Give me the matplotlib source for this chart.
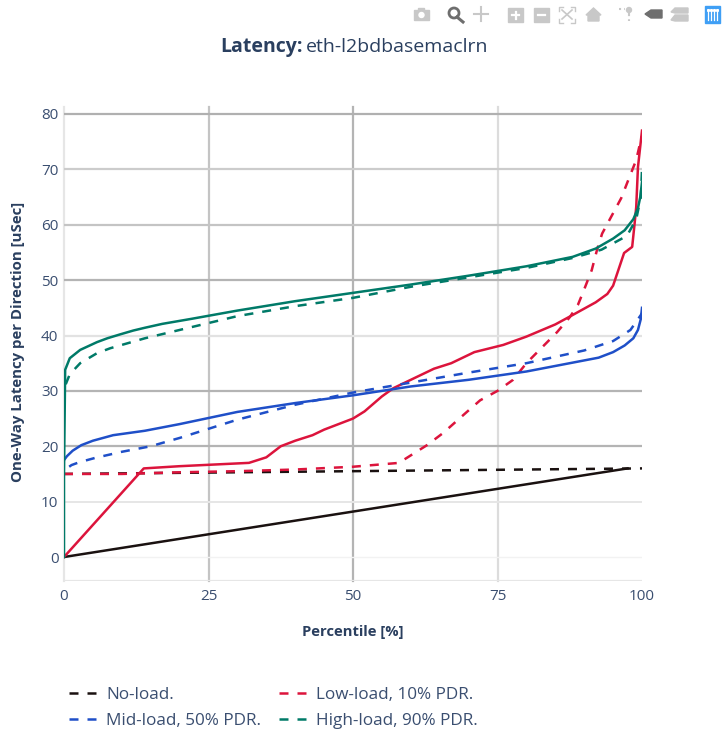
import matplotlib
matplotlib.use("Agg")
from matplotlib import pyplot as plt
from matplotlib.patches import Rectangle, Circle, Polygon

plt.rcParams['font.family'] = ['Open Sans', 'DejaVu Sans']

###
# Latency percentile curves for eth-l2bdbasemaclrn
###

no_x = [0, 97.5]
no_y = [0, 16]
no_dash_x = [0, 100]
no_dash_y = [15, 16]

low_x = [0, 13.8, 20, 32, 35, 37.5, 40, 43, 45, 50, 52, 55, 57, 60, 64, 67, 71, 76, 80, 85, 88, 92,
         94, 95, 96.9, 98.3, 98.7, 99, 99.3, 100]
low_y = [0, 16, 16.4, 17, 18, 20, 21, 22, 23, 25, 26.3, 29, 30.5, 32, 34, 35, 37, 38.3, 39.8, 42, 43.7, 46,
         47.5, 49, 54.9, 56, 60, 63.2, 70.4, 77]
low_dash_x = [0, 10, 20, 30, 40, 50, 58, 58.7, 62.8, 65.6, 69.7, 72, 75, 77.7, 80, 85.3, 87.5, 88.9, 89.8, 91.3,
              92.2, 93.1, 94.8, 96.4, 97.6, 99, 99.8, 100]
low_dash_y = [15, 15, 15.3, 15.5, 15.8, 16.3, 17, 17.5, 20.2, 22.4, 26.2, 28.3, 30, 32, 35, 40.6, 43.3, 45.5, 47.8, 51.8,
              55.4, 58.4, 61.7, 64.8, 68, 71.7, 75.3, 76]

mid_x = [0, 0.5, 1.5, 3, 5, 8.5, 14, 20, 30, 40, 50, 60, 70, 80, 92.5, 95, 97, 98.5, 99.3, 99.8, 100]
mid_y = [17.5, 18.2, 19.2, 20.2, 21, 22, 22.8, 24, 26.2, 27.8, 29.2, 30.8, 32, 33.5, 36, 37, 38.2, 39.5, 41, 43, 45]
mid_dash_x = [0.9, 1.3, 2.6, 5.4, 10, 15, 20, 30, 40, 50, 60, 70, 80, 90, 95, 98, 100]
mid_dash_y = [16.3, 16.6, 17.1, 17.9, 19, 20, 21.5, 24.8, 27.5, 29.7, 31.5, 33.3, 35, 37.3, 39, 41, 44]

high_x = [0, 0, 0.2, 1, 2.8, 5.7, 7.5, 9.7, 12, 14, 17, 22, 30, 40, 50, 60, 70, 80, 88, 92, 95, 97, 98.5,
          99.3, 99.7, 100]
high_y = [0, 15, 33.8, 35.9, 37.4, 38.8, 39.5, 40.2, 40.9, 41.4, 42.1, 43, 44.5, 46.2, 47.7, 49.2, 50.8, 52.5,
          54.2, 55.7, 57.5, 59, 61, 63, 65, 67.7]
high_dash_x = [0.3, 1, 2.8, 5.7, 8, 14, 20, 30, 40, 50, 60, 70, 80, 88, 93, 97.4, 99, 99.8, 100]
high_dash_y = [31.2, 33, 35, 36.8, 37.7, 39.5, 41, 43.5, 45.3, 46.8, 48.8, 50.5, 52.2, 54, 55.5, 58, 61, 65, 70]

x_ticks = [0, 25, 50, 75, 100]
y_ticks = [0, 10, 20, 30, 40, 50, 60, 70, 80]

labels = ["No-load.", "Low-load, 10% PDR.", "Mid-load, 50% PDR.", "High-load, 90% PDR."]
colors = ["#1a1110", "#dc143c", "#1f4fc8", "#007a68"]

W, H = 724, 736
TEXT = "#2a3f5f"
TICK = "#3a4e70"
LW = 1.8
DASH = (0, (3.6, 3.6))

fig = plt.figure(figsize=(W / 100, H / 100), dpi=100)
# axes box in pixels: x 64..642, y 107..581, value 0 sits at 557 and 80 at 114
ax = fig.add_axes([64 / W, 1 - 581 / H, 578 / W, 474 / H])
ax.set_xlim(0, 100)
ax.set_ylim(-24 / 5.54, 80 + 7 / 5.54)
for s in ax.spines.values():
    s.set_visible(False)

h_cols = ["#f2f2f2", "#e6e6e6", "#b4b4b4", "#b4b4b4", "#e2e2e2", "#b4b4b4", "#c4c4c4", "#cccccc", "#b0b0b0"]
h_wid = [1.0, 1.4, 1.6, 1.6, 1.6, 1.6, 1.6, 1.6, 1.6]
for v, c, w in zip(y_ticks, h_cols, h_wid):
    ax.axhline(v, color=c, lw=w, zorder=2)
for v, c in zip(x_ticks[:4], ["#e6e6e6", "#c4c4c4", "#b4b4b4", "#dcdcdc"]):
    ax.axvline(v, color=c, lw=1.6, zorder=1, clip_on=False)
ax.axhline(-23.5 / 5.54, color="#e6e6e6", lw=1.6, zorder=2)

ax.plot(no_dash_x, no_dash_y, color=colors[0], lw=LW, ls=DASH, zorder=3)
ax.plot(no_x, no_y, color=colors[0], lw=LW, zorder=3)
ax.plot(low_dash_x, low_dash_y, color=colors[1], lw=LW, ls=DASH, zorder=3)
ax.plot(low_x, low_y, color=colors[1], lw=LW, zorder=3)
ax.plot(mid_dash_x, mid_dash_y, color=colors[2], lw=LW, ls=DASH, zorder=3)
ax.plot(mid_x, mid_y, color=colors[2], lw=LW, zorder=3)
ax.plot(high_dash_x, high_dash_y, color=colors[3], lw=LW, ls=DASH, zorder=3)
ax.plot(high_x, high_y, color=colors[3], lw=LW, zorder=3)

ax.set_xticks(x_ticks)
ax.set_yticks(y_ticks)
ax.tick_params(length=0, labelsize=11, labelcolor=TICK, pad=4)
ax.tick_params(axis='x', pad=6)

fig.text(353 / W, 1 - 632 / H, "Percentile [%]", ha='center', va='center', fontsize=10.6, fontweight='bold', color=TEXT)
fig.text(18 / W, 1 - 342 / H, "One-Way Latency per Direction [uSec]", ha='center', va='center', rotation=90,
         fontsize=10.8, fontweight='bold', color=TEXT)

fig.text(220 / W, 1 - 47 / H, "Latency:", ha='left', va='center', fontsize=14, fontweight='bold', color=TEXT)
fig.text(306 / W, 1 - 47 / H, "eth-l2bdbasemaclrn", ha='left', va='center', fontsize=14, color=TEXT)

# legend by hand, plotly lays it out in two columns
for i, (lx, ly) in enumerate([(69, 693), (279, 693), (69, 719), (279, 719)]):
    fig.add_artist(plt.Line2D([lx / W, (lx + 28) / W], [1 - ly / H, 1 - ly / H], color=colors[i], lw=LW, ls=DASH))
    fig.text((lx + 37) / W, 1 - (ly + 2) / H, labels[i], ha='left', va='center', fontsize=12.3, color=TICK)

# modebar icons, overlay axes in pixel coordinates
bar = fig.add_axes([0, 0, 1, 1], zorder=5)
bar.set_xlim(0, W)
bar.set_ylim(H, 0)
bar.axis("off")
grey = "#c8c8c8"
dgrey = "#6e6e6e"
# camera
bar.add_patch(Rectangle((414, 10), 15, 10, color=grey))
bar.add_patch(Rectangle((418, 8), 6, 3, color=grey))
bar.add_patch(Circle((421.5, 15), 2.5, color="white"))
# zoom
bar.add_patch(Circle((454, 13), 5, fc="white", ec=dgrey, lw=2))
bar.plot([457, 463], [17, 22], color=dgrey, lw=2.2)
# pan
bar.plot([474, 488], [14, 14], color=grey, lw=1.5)
bar.plot([481, 481], [7, 21], color=grey, lw=1.5)
# zoom in, zoom out
for px in [508, 534]:
    bar.add_patch(Rectangle((px, 8), 15, 14, color=grey))
    bar.plot([px + 4, px + 11], [15, 15], color="white", lw=1.6)
bar.plot([515.5, 515.5], [11.5, 18.5], color="white", lw=1.6)
# autoscale
bar.plot([562, 572], [10, 19], color=grey, lw=1.2)
bar.plot([572, 562], [10, 19], color=grey, lw=1.2)
for cx, cy, sx, sy in [(559, 7, 1, 1), (575, 7, -1, 1), (559, 23, 1, -1), (575, 23, -1, -1)]:
    bar.plot([cx + 4 * sx, cx, cx], [cy, cy, cy + 4 * sy], color=grey, lw=1)
# home
bar.add_patch(Polygon([(586, 15), (593.5, 8), (601, 15), (599, 15), (599, 21), (588, 21), (588, 15)], color=grey))
# spike lines
bar.plot([619, 625], [9, 9], color=grey, lw=1.5, ls=(0, (1, 1.5)))
bar.add_patch(Circle((629, 10), 2.5, color=grey))
bar.plot([629, 629], [13, 21], color=grey, lw=1.5, ls=(0, (1.5, 1.5)))
# hover closest, hover compare
bar.add_patch(Polygon([(645, 14), (651, 10), (662, 10), (662, 18), (651, 18)], color=dgrey))
bar.add_patch(Polygon([(671, 12), (675, 8), (688, 8), (688, 13), (675, 13)], color=grey))
bar.add_patch(Polygon([(671, 20), (675, 15), (688, 15), (688, 21), (675, 21)], color=grey))
# plotly logo
bar.add_patch(Rectangle((705, 6), 15, 17, color="#3f9ff5"))
for px in [708, 711, 714, 717]:
    bar.plot([px, px], [12, 20], color="white", lw=0.9)
    bar.plot([px], [9.5], marker="s", ms=1.2, color="white")

plt.savefig("out.png", dpi=100)
